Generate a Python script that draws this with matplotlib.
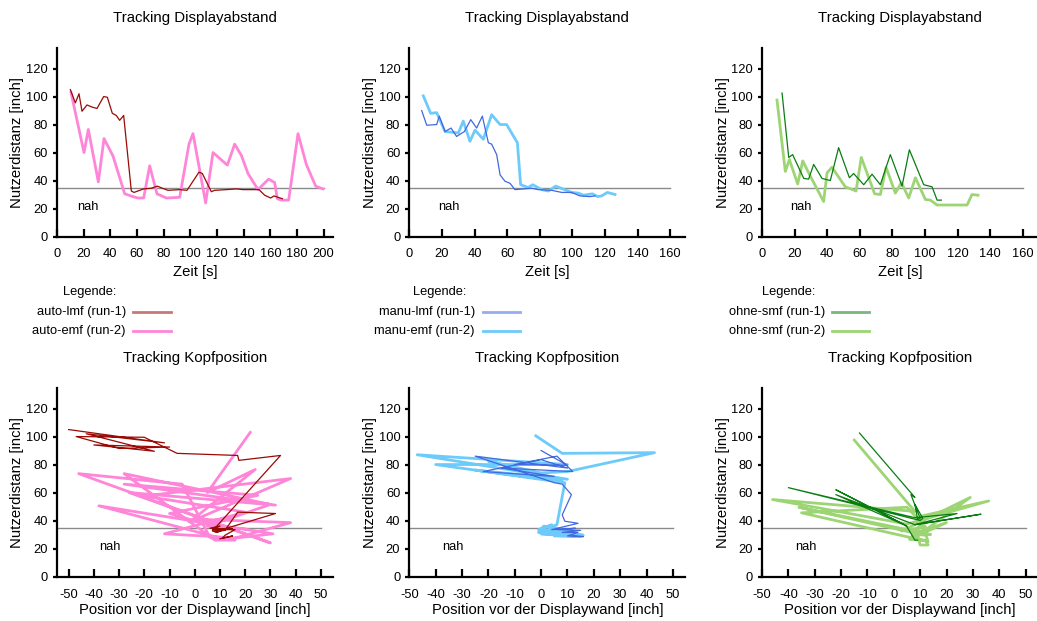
import matplotlib
matplotlib.use("Agg")
import matplotlib.pyplot as plt
from matplotlib.lines import Line2D

plt.rcParams['font.family'] = ['Liberation Sans', 'DejaVu Sans']
plt.rcParams['axes.unicode_minus'] = False

# ---------------- data ----------------
# auto condition
auto_lmf_t = [10, 13.75, 16.5, 18.75, 22.5, 26.25, 30, 35, 37.75, 41.5, 44.5, 47, 50, 55.75,
              57.75, 65, 70.75, 75.25, 79, 83.25, 92, 97.5, 106.5, 109, 115.75, 118.25, 127,
              134.5, 139.5, 151.5, 155.75, 160.25, 162.75, 165.75, 169]
auto_lmf_d = [105, 95.5, 102, 89.5, 94, 92.5, 91.5, 100, 99.5, 88, 86.5, 83, 86.5, 32.5, 31.5,
              34, 34.5, 36, 34.5, 33, 33.5, 33, 46, 45, 32, 33, 33.5, 34, 33.5, 33.5, 29.5,
              27.5, 29, 28, 27]
auto_lmf_pos = [-50, -12, -43, -16, -40, -10, -30, -47, -20, -7, 17, 17.5, 34, 7, 9, 12, 6, 10,
                8, 11, 7, 12, 17, 32, 8, 12, 9, 15, 10, 16, 12, 11, 15, 13, 10]

auto_emf_t = [10.5, 20.25, 23.5, 31, 35.25, 42, 45.75, 50.75, 57, 60.75, 65, 69.5, 75, 82, 92,
              99, 102, 111.5, 117, 127.75, 133.25, 138.25, 143.25, 150.75, 158.75, 163.25,
              165.25, 168.25, 173.75, 180.75, 187, 194, 199.5]
auto_emf_d = [103, 60, 76.5, 39, 70, 57.5, 46, 30.5, 28.5, 27.5, 27.5, 50.5, 30.5, 27.5, 28, 66,
              73.5, 24, 60, 51, 66, 58, 45, 33.5, 41, 38.5, 27, 26, 26, 73.5, 51.5, 36, 34]
auto_emf_pos = [22, 5, 24, -2, 38, -20, 20, -12, 8, 15, 10, -38, 31, 16, 6, -5, -46, 30, -26, 32,
                -28, 25, -10, 12, 0, 38, 15, 16, 8, -28, 30, 5, 20]

# manual condition
manu_lmf_t = [7.6, 10.7, 16.8, 18.4, 21.9, 25.6, 29, 33.8, 37.7, 41.3, 44.8, 48.5, 50.5, 53.6,
              55.7, 58.7, 61.8, 64.8, 70, 75.1, 79, 87.3, 93.5, 99.6, 104.7, 110.8, 113.9]
manu_lmf_d = [90, 79.5, 80, 86, 75, 77.5, 71.5, 75, 83.5, 77.5, 86, 67, 66, 58.5, 44, 39.5, 38,
              33.5, 34, 34.5, 33.5, 33, 31.5, 31.5, 29, 28.5, 29]
manu_lmf_pos = [0, 10, -10, 6, 12, -15, 5, -22, 0, 10, -25, 5, 8, 11.5, 8, 9, 14, 4, 10, 13, 6,
                15, 8, 14, 10, 16, 12]

manu_emf_t = [8.6, 13.1, 16.8, 21.9, 30.1, 33.1, 37.2, 40.3, 45.4, 50.5, 55.7, 59.7, 66.3, 68.3,
              73, 75.7, 81.2, 85.3, 89.8, 99.6, 103.7, 106.8, 112.3, 115.6, 118, 121.5, 126.2]
manu_emf_d = [100.5, 88, 88.5, 75, 74, 82.5, 68, 76, 69.5, 87, 80, 80, 67, 37, 35, 37, 33.5,
              32.5, 36, 31.5, 31, 29.5, 30.5, 28.5, 29, 31.5, 30]
manu_emf_pos = [-2, 8, 43, 10, 0, -20, 8, -25, 10, -47, 10, -40, 9, 6, 3, 4, -1, 12, 1, -1, 10,
                16, 0, 15, 5, 12, 14]

# without condition
ohne_lmf_t = [12.3, 16.4, 18.8, 25.6, 28.6, 31.7, 36.8, 41.9, 47, 53.6, 56.2, 62.4, 67.5, 72.6,
              78.7, 85.9, 90.4, 99.2, 104.3, 107.4, 110]
ohne_lmf_d = [102.5, 56.5, 58.5, 41.5, 41, 51.5, 41.5, 40, 63.5, 42, 45, 37, 44.5, 37, 58.5, 36,
              62, 37, 35.5, 26, 26]
ohne_lmf_pos = [-13, 8, 6.5, 10, 9, 8, 11, 10, -40, 8, 24, 8, 33, 8, -22, 5, -22, 4, 5, 8, 9]

ohne_emf_t = [9.2, 14.3, 16.8, 21.9, 25, 29.7, 37.8, 39.9, 42.9, 51.1, 57.7, 60.9, 69.1, 72.6,
              76.1, 81.8, 85.5, 90, 94.1, 100.2, 103.3, 107.4, 125.8, 128.8, 132.5]
ohne_emf_d = [97.5, 46.5, 55, 37.5, 54, 43, 25, 45.5, 49.5, 35.5, 32.5, 56.5, 30.5, 30, 49.5, 31,
              38.5, 27.5, 42, 26.5, 26, 22.5, 22.5, 30, 29.5]
ohne_emf_pos = [-15, 8, -46, 5, 36, 10, 13, -35, 5, 12, 3, 29, 10, 14, -36, 8, 20, 7, 12, 6, 12,
                13, 10, 9, 12]

near_threshold = 35
y_ticks = [0, 20, 40, 60, 80, 100, 120]
time_ticks_auto = [0, 20, 40, 60, 80, 100, 120, 140, 160, 180, 200]
time_ticks = [0, 20, 40, 60, 80, 100, 120, 140, 160]
pos_ticks = [-50, -40, -30, -20, -10, 0, 10, 20, 30, 40, 50]

labels = [("auto-lmf (run-1)", "auto-emf (run-2)"),
          ("manu-lmf (run-1)", "manu-emf (run-2)"),
          ("ohne-smf (run-1)", "ohne-smf (run-2)")]
colors = [("#990a05", "#ff85d8"),
          ("#4268e0", "#6ccbfb"),
          ("#0a7d12", "#9dd574")]

runs = [
    ((auto_lmf_t, auto_lmf_d, auto_lmf_pos), (auto_emf_t, auto_emf_d, auto_emf_pos)),
    ((manu_lmf_t, manu_lmf_d, manu_lmf_pos), (manu_emf_t, manu_emf_d, manu_emf_pos)),
    ((ohne_lmf_t, ohne_lmf_d, ohne_lmf_pos), (ohne_emf_t, ohne_emf_d, ohne_emf_pos)),
]

# ---------------- layout (pixels) ----------------
W, H = 1037, 621
fig = plt.figure(figsize=(W / 100, H / 100), dpi=100)

TICK_FS, LABEL_FS, TITLE_FS, SMALL_FS = 9.3, 10.7, 10.8, 9.3

ax_w, ax_h = 276, 188.5
lefts = [57, 409.3, 762]
top_bottom, bot_bottom = 236.5, 576.5          # pixel row of the x axis
time_xlims = [(0, 207), (0, 169.3), (0, 169.3)]
time_lines = [200, 160, 160]
time_tick_sets = [time_ticks_auto, time_ticks, time_ticks]
ylim = (0, 134.7)

legend_label_x = [63, 413, 762]
legend_text_right = [126, 475, 825]
legend_line = [(133, 171), (483, 520), (832, 869)]


def make_axes(left, bottom_px):
    return fig.add_axes([left / W, 1 - bottom_px / H, ax_w / W, ax_h / H])


def style(ax, xticks, xlim, pad_x):
    for s in ("top", "right"):
        ax.spines[s].set_visible(False)
    for s in ("left", "bottom"):
        ax.spines[s].set_linewidth(1.6)
    ax.set_xlim(*xlim)
    ax.set_ylim(*ylim)
    ax.set_xticks(xticks)
    ax.set_yticks(y_ticks)
    ax.tick_params(axis="x", direction="in", length=6, width=1.6, pad=pad_x, labelsize=TICK_FS)
    ax.tick_params(axis="y", direction="out", length=3, width=1.6, pad=3.5, labelsize=TICK_FS)
    ax.set_ylabel("Nutzerdistanz [inch]", fontsize=LABEL_FS)
    ax.yaxis.set_label_coords(-39.5 / ax_w, 0.5)
    ax.yaxis.label.set_va("center")


for i in range(3):
    (t1, d1, p1), (t2, d2, p2) = runs[i]
    c1, c2 = colors[i]

    # distance over time
    ax = make_axes(lefts[i], top_bottom)
    style(ax, time_tick_sets[i], time_xlims[i], 8)
    ax.plot([0, time_lines[i]], [near_threshold, near_threshold], color="#8a8a8a", lw=1.0, zorder=1)
    ax.plot(t1, d1, color=c1, lw=0.9, zorder=3)
    ax.plot(t2, d2, color=c2, lw=2.0, zorder=2)
    ax.text(24 if i else 23.5, 21, "nah", fontsize=SMALL_FS, ha="center", va="center")
    ax.text(0.5, 1 + 30 / ax_h, "Tracking Displayabstand", transform=ax.transAxes,
            ha="center", va="center", fontsize=TITLE_FS)
    ax.set_xlabel("Zeit [s]", fontsize=LABEL_FS)
    ax.xaxis.set_label_coords(0.5, -35.5 / ax_h)
    ax.xaxis.label.set_va("center")

    # head position
    bx = make_axes(lefts[i], bot_bottom)
    bxlim = (-54.6, 54.8) if i == 0 else (-50, 54.7)
    style(bx, pos_ticks, bxlim, 9)
    bx.plot([bxlim[0], 50], [near_threshold, near_threshold], color="#8a8a8a", lw=1.0, zorder=1)
    bx.plot(p2, d2, color=c2, lw=2.0, zorder=2)
    bx.plot(p1, d1, color=c1, lw=0.9, zorder=3)
    bx.text(-33.5, 21, "nah", fontsize=SMALL_FS, ha="center", va="center")
    bx.text(0.5, 1 + 30 / ax_h, "Tracking Kopfposition", transform=bx.transAxes,
            ha="center", va="center", fontsize=TITLE_FS)
    bx.set_xlabel("Position vor der Displaywand [inch]", fontsize=LABEL_FS)
    bx.xaxis.set_label_coords(0.5, -33.5 / ax_h)
    bx.xaxis.label.set_va("center")

    # legend block
    fig.text(legend_label_x[i] / W, 1 - 292 / H, "Legende:", ha="left", va="center", fontsize=SMALL_FS)
    for row, (lab, col, alpha) in enumerate(((labels[i][0], c1, 0.55), (labels[i][1], c2, 1.0))):
        y = 1 - (311.7 + 19 * row) / H
        fig.text(legend_text_right[i] / W, y, lab, ha="right", va="center", fontsize=SMALL_FS)
        x0, x1 = legend_line[i]
        fig.add_artist(Line2D([x0 / W, x1 / W], [y, y], transform=fig.transFigure,
                              color=col, alpha=alpha, lw=2.0))

fig.savefig("out.png", dpi=100)
